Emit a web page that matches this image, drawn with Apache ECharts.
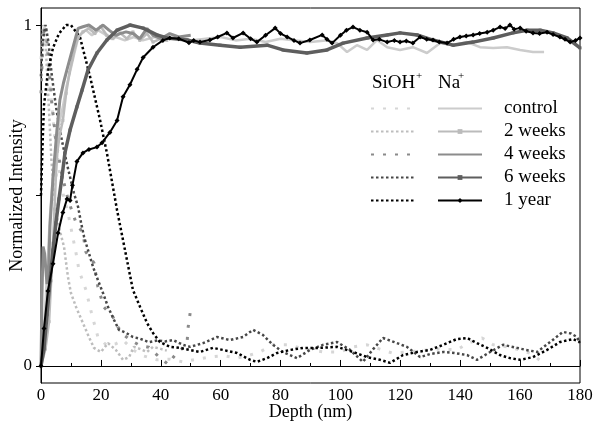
<!DOCTYPE html>
<html><head><meta charset="utf-8">
<script src="https://cdn.jsdelivr.net/npm/echarts@6/dist/echarts.min.js"></script>
<style>html,body{margin:0;padding:0;background:#fff}#c{width:595px;height:434px}</style>
</head><body><div id="c"></div>
<script>
// Depth (nm) vs normalized intensity, [depth, value]
const naControl = [[0,0],[1,0.1],[2,0.27],[3,0.44],[4,0.56],[5,0.64],[6,0.71],[7.3,0.76],[8.4,0.815],[10,0.874],[11,0.912],[12.4,0.962],[13.5,0.975],[15,0.985],[17,0.97],[19,0.985],[21,0.975],[23,0.96],[25,0.965],[28,0.955],[31,0.965],[34,0.955],[38,0.965],[42,0.96],[46,0.965],[50,0.955],[55,0.96],[60,0.965],[65,0.955],[70,0.96],[75,0.95],[80,0.96],[85,0.955],[90,0.95],[95,0.955],[98.9,0.947],[102.2,0.921],[105.5,0.941],[108.9,0.927],[112.2,0.956],[115.6,0.935],[119.9,0.927],[124.2,0.935],[128.9,0.918],[133.3,0.947],[137.6,0.941],[142.3,0.95],[146.6,0.935],[151,0.933],[155.6,0.935],[160,0.927],[164.3,0.921],[168,0.921]];
const na2w = [[0,0],[1.5,0.05],[2.7,0.13],[3.4,0.25],[4,0.36],[4.5,0.46],[5,0.56],[5.5,0.63],[6.3,0.68],[7.3,0.72],[8.4,0.8],[9.5,0.86],[10.5,0.9],[11.5,0.94],[12.5,0.965],[14,0.98],[16,0.99],[18,0.975],[20,0.995],[22,0.97],[24,0.96],[26.4,0.977],[28.7,0.96],[30.7,0.98],[33,0.955],[35.4,0.975],[37.4,0.95],[40,0.96],[42,0.955]];
const na4w = [[0,0],[0.3,0.2],[0.7,0.35],[1.2,0.33],[2,0.24],[2.6,0.3],[3,0.41],[4,0.55],[5.3,0.69],[6.3,0.78],[7.5,0.83],[8.7,0.87],[10.7,0.935],[12.4,0.99],[14,0.995],[16,1.0],[18.4,0.985],[20.7,1.0],[22.7,0.985],[25,0.97],[26.4,0.975],[28.4,0.98],[30.7,0.975],[33,0.96],[35.4,0.99],[37.4,0.97],[40,0.96],[43,0.975],[46,0.965],[50,0.97]];
const na6w = [[0,0],[1,0.05],[2,0.15],[3,0.25],[4,0.34],[5,0.42],[6,0.49],[7,0.554],[8,0.625],[9.7,0.692],[12,0.76],[13.7,0.809],[15.7,0.868],[18.7,0.918],[22,0.956],[25.4,0.985],[29.7,1.0],[34.1,0.991],[38.7,0.971],[42.1,0.962],[48.8,0.956],[53.1,0.947],[59.8,0.941],[66.5,0.935],[75.5,0.941],[80.8,0.927],[88.8,0.918],[95.5,0.927],[100.9,0.947],[108.9,0.962],[115.6,0.971],[119.9,0.977],[125.6,0.971],[130.9,0.956],[137.6,0.941],[144.3,0.95],[151,0.962],[157.6,0.977],[162.3,0.985],[166.7,0.985],[171,0.977],[175.7,0.962],[180,0.933]];
const na1y = [[0,0],[1,0.11],[2.3,0.22],[4,0.3],[5.7,0.39],[7.3,0.45],[8.7,0.49],[9.7,0.485],[10.5,0.53],[12,0.6],[14,0.625],[16,0.635],[18.7,0.642],[20.4,0.655],[23,0.685],[25.4,0.72],[27.4,0.79],[29.7,0.825],[32.1,0.87],[34.1,0.905],[37.4,0.935],[40.7,0.955],[43,0.962],[46,0.96],[49.4,0.948],[51,0.955],[53.1,0.95],[56.4,0.956],[59,0.965],[62.1,0.977],[64.1,0.962],[67.5,0.977],[70,0.96],[72.1,0.95],[75,0.97],[78.2,0.991],[80,0.975],[82.2,0.965],[84.5,0.955],[86.5,0.947],[89.8,0.956],[93.9,0.971],[95.5,0.958],[97.2,0.947],[100,0.97],[102,0.985],[104.2,0.994],[106.5,0.985],[108.9,0.979],[110.9,0.956],[113,0.958],[115.6,0.95],[118,0.955],[119.9,0.95],[122,0.953],[124.2,0.947],[126.6,0.965],[128.8,0.958],[130.9,0.956],[133,0.95],[135.6,0.947],[137.8,0.958],[139.9,0.965],[142,0.968],[144.3,0.971],[146.5,0.975],[149,0.979],[151,0.985],[153.3,0.994],[155,0.99],[156.6,1.0],[158,0.988],[160,0.991],[162,0.982],[164.3,0.977],[166.5,0.975],[169,0.979],[171,0.972],[173.3,0.965],[175,0.958],[176.7,0.95],[178.5,0.955],[180,0.962]];

const siControl = [[0,0.9],[1,1.0],[2,0.93],[3,0.82],[4.5,0.68],[6,0.58],[7.5,0.5],[9,0.449],[11.7,0.331],[12.7,0.28],[15,0.223],[17,0.15],[19,0.085],[22,0.06],[25,0.065],[27.4,0.076],[30.7,0.047],[34,0.03],[38.7,0.018],[43,0.02],[47.4,0.012],[52,0.02],[56.4,0.026],[61,0.03],[65.5,0.023],[69,0.03],[73.1,0.041],[77.5,0.062],[82.2,0.062],[88,0.05],[94.2,0.041],[99.9,0.041],[104.2,0.056],[108.9,0.062],[113,0.05],[117.2,0.038],[122.2,0.041],[127,0.045],[133,0.05],[138.9,0.047],[142.6,0.067],[147.3,0.082],[151,0.062],[155.6,0.056],[160,0.047],[164,0.035],[168.5,0.003]];
const si2w = [[0,0.85],[0.7,1.0],[1.5,0.95],[2.5,0.78],[3.5,0.6],[5,0.449],[6.5,0.39],[7.7,0.349],[9,0.261],[10,0.214],[11.7,0.173],[14,0.126],[16,0.085],[17.7,0.053],[20,0.041],[22.4,0.067],[25,0.047],[27.4,0.018],[29.4,0.026],[31,0.056],[33,0.05],[35.4,0.041],[37.4,0.056],[40,0.05],[42,0.045]];
const si4w = [[0,0.8],[0.7,0.97],[1.5,1.0],[2.5,0.9],[3.5,0.78],[5,0.66],[7,0.56],[9,0.49],[10.5,0.45],[11.7,0.42],[14,0.39],[15,0.334],[17.7,0.302],[19,0.232],[21,0.173],[24,0.144],[25.7,0.114],[27.7,0.091],[30,0.075],[33,0.06],[36,0.055],[39,0.03],[42.4,0.005],[45,0.035],[47,0.05],[48.8,0.07],[49.1,0.111],[49.8,0.155]];
const si6w = [[0,0.85],[0.5,0.95],[1.5,1.0],[2.5,0.95],[3.5,0.86],[5,0.76],[7,0.66],[9,0.58],[11,0.507],[12.4,0.466],[13.4,0.419],[14.4,0.378],[16,0.331],[17.4,0.29],[19,0.252],[20.7,0.214],[22.4,0.173],[24.4,0.135],[26,0.106],[28.4,0.097],[30.7,0.085],[33,0.08],[36,0.07],[39,0.075],[41.5,0.072],[44.1,0.076],[47.4,0.062],[49.8,0.056],[54.1,0.067],[58.8,0.085],[63.1,0.076],[67.5,0.085],[70.8,0.106],[74.1,0.091],[77.5,0.062],[80.8,0.041],[85.5,0.023],[89.8,0.047],[94.2,0.062],[98.9,0.07],[103.2,0.047],[107.5,0.012],[111,0.05],[114.2,0.082],[118,0.07],[122.2,0.056],[126.6,0.026],[130,0.035],[134.3,0.041],[138,0.038],[142.3,0.032],[145.6,0.018],[150,0.041],[154.3,0.062],[159,0.053],[162,0.047],[165.7,0.041],[170,0.07],[174.3,0.1],[177,0.095],[179,0.085],[180,0.067]];
const si1y = [[0,0.5],[0.6,0.67],[1,0.765],[2.3,0.862],[4,0.933],[6,0.975],[8.4,1.0],[10,1.0],[13,0.965],[16.4,0.848],[19.7,0.722],[22,0.625],[25.4,0.457],[28.7,0.311],[30.7,0.223],[33.1,0.173],[35.4,0.126],[37.4,0.097],[39.7,0.07],[43.1,0.056],[46.4,0.053],[49.8,0.047],[53.1,0.041],[57.4,0.053],[60.8,0.047],[65.5,0.038],[69.8,0.018],[72.1,0.012],[75.5,0.023],[78.8,0.038],[83.2,0.047],[87.5,0.053],[93.2,0.053],[98.9,0.056],[104.2,0.041],[108.9,0.026],[113.2,0.018],[116.6,0.009],[120.9,0.032],[125.6,0.041],[129.9,0.047],[134.3,0.062],[138.9,0.079],[142.3,0.082],[145.6,0.067],[149,0.053],[153.3,0.032],[156.6,0.023],[160,0.018],[164.3,0.026],[169,0.047],[173.3,0.07],[177.7,0.079],[180,0.07]];

const groups = ['control','2 weeks','4 weeks','6 weeks','1 year'];
const xTicks = [0,20,40,60,80,100,120,140,160,180];
const yLabelValues = [0,1];
const yTickValues = [0,0.5,1];

const FONT = '"Liberation Serif", "Times New Roman", serif';
const siData = [siControl, si2w, si4w, si6w, si1y];
const naData = [naControl, na2w, na4w, na6w, na1y];
const siStyle = [
  {color:'#d6d6d6', width:3, dash:[3,9]},
  {color:'#bdbdbd', width:2.5, dash:[2.5,2.5]},
  {color:'#8a8a8a', width:3, dash:[3,9]},
  {color:'#474747', width:2.5, dash:[2.5,2.5]},
  {color:'#000000', width:2.5, dash:[2.5,2.5]}
];
const naStyle = [
  {color:'#cccccc', width:2.5, symbol:'none'},
  {color:'#bbbbbb', width:2.5, symbol:'rect', size:3},
  {color:'#8c8c8c', width:3, symbol:'none'},
  {color:'#5e5e5e', width:3.5, symbol:'rect', size:3},
  {color:'#000000', width:2, symbol:'diamond', size:5}
];

const series = [];
groups.forEach((g,i)=>{
  const s = siStyle[i];
  series.push({
    name:'SiOH ' + g, type:'line', data:siData[i], showSymbol:false, symbol:'none',
    lineStyle:{color:s.color, width:s.width, type:s.dash}, itemStyle:{color:s.color},
    z:2+i, animation:false, silent:true
  });
});
groups.forEach((g,i)=>{
  const s = naStyle[i];
  series.push({
    name:'Na ' + g, type:'line', data:naData[i],
    showSymbol: s.symbol !== 'none', symbol: s.symbol, symbolSize: s.size || 0,
    lineStyle:{color:s.color, width:s.width}, itemStyle:{color:s.color},
    z:10+i, animation:false, silent:true
  });
});

const chart = echarts.init(document.getElementById('c'), null, {renderer:'canvas'});
chart.setOption({
  animation:false,
  backgroundColor:'#fff',
  grid:{left:41, right:15, top:8, bottom:51, containLabel:false, outerBoundsMode:'none',
        show:true, borderColor:'#000', borderWidth:1, backgroundColor:'transparent'},
  xAxis:{
    type:'value', min:0, max:180, interval:20,
    name:'Depth (nm)', nameLocation:'middle', nameGap:20, nameMoveOverlap:false,
    nameTextStyle:{fontFamily:FONT, fontSize:18, color:'#000', verticalAlign:'top'},
    axisLine:{lineStyle:{color:'#000', width:1}},
    axisTick:{inside:true, length:6, lineStyle:{color:'#000'}},
    minorTick:{show:true, splitNumber:2, length:3, lineStyle:{color:'#000'}},
    axisLabel:{fontFamily:FONT, fontSize:17, color:'#000', margin:4,
      formatter:v=> xTicks.includes(v) ? String(v) : ''},
    splitLine:{show:false}
  },
  yAxis:{
    type:'value', min:-0.05, max:1.05,
    name:'Normalized Intensity', nameLocation:'middle', nameGap:24, nameRotate:90, nameMoveOverlap:false,
    nameTextStyle:{fontFamily:FONT, fontSize:18, color:'#000', verticalAlign:'middle'},
    axisLine:{show:true, lineStyle:{color:'#000', width:1}},
    axisTick:{show:true, inside:false, length:5, customValues:yTickValues, lineStyle:{color:'#000'}},
    axisLabel:{fontFamily:FONT, fontSize:17, color:'#000', margin:9, customValues:yLabelValues},
    splitLine:{show:false}
  },
  legend:[
    {
      orient:'vertical', left:370, top:99, padding:0, itemWidth:43, itemHeight:6, itemGap:4,
      selectedMode:false,
      data: groups.map(g=>({name:'SiOH '+g, itemStyle:{opacity:0}})),
      formatter:()=>' ', textStyle:{fontFamily:FONT, fontSize:19, color:'#fff'}
    },
    {
      orient:'vertical', left:437, top:99, padding:0, itemWidth:44, itemHeight:6, itemGap:4,
      selectedMode:false,
      data: groups.map((g,i)=> naStyle[i].symbol==='none' ? {name:'Na '+g, itemStyle:{opacity:0}} : {name:'Na '+g}),
      formatter:n=> n.replace('Na ',''),
      textStyle:{fontFamily:FONT, fontSize:19, color:'#000', padding:[0,0,0,17]}
    }
  ],
  graphic:[
    {type:'text', left:372, top:74, style:{text:'SiOH', font:'19px ' + FONT, fill:'#000'}},
    {type:'text', left:416, top:71, style:{text:'+', font:'11px ' + FONT, fill:'#000'}},
    {type:'text', left:438, top:74, style:{text:'Na', font:'19px ' + FONT, fill:'#000'}},
    {type:'text', left:458, top:71, style:{text:'+', font:'11px ' + FONT, fill:'#000'}}
  ],
  series: series
});
</script>
</body></html>
